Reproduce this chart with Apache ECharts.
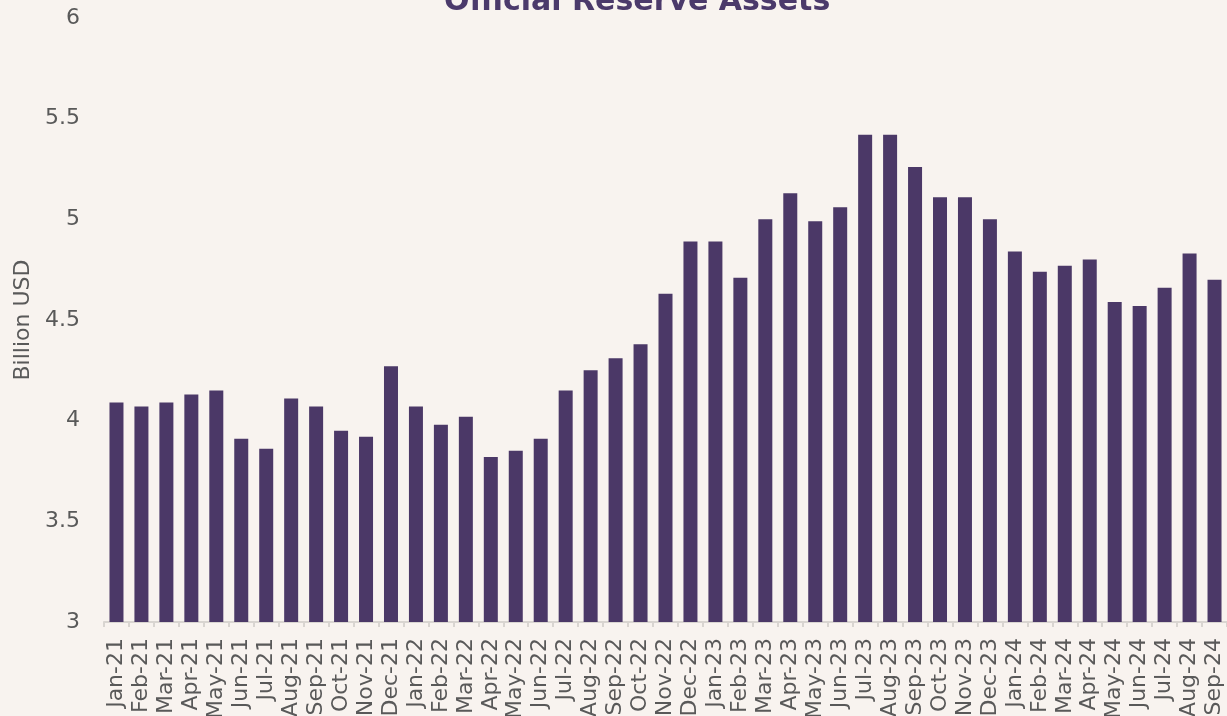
<!DOCTYPE html>
<html>
<head>
<meta charset="UTF-8">
<title>Official Reserve Assets</title>
<script src="https://cdn.jsdelivr.net/npm/echarts@6/dist/echarts.min.js"></script>
<style>
  html, body { margin: 0; padding: 0; background: #f8f3ef; }
  #main { width: 1227px; height: 716px; }
</style>
</head>
<body>
<div id="main"></div>
<script>
// months Jan-21 .. Sep-24
var months = ['Jan-21','Feb-21','Mar-21','Apr-21','May-21','Jun-21','Jul-21','Aug-21','Sep-21','Oct-21','Nov-21','Dec-21',
  'Jan-22','Feb-22','Mar-22','Apr-22','May-22','Jun-22','Jul-22','Aug-22','Sep-22','Oct-22','Nov-22','Dec-22',
  'Jan-23','Feb-23','Mar-23','Apr-23','May-23','Jun-23','Jul-23','Aug-23','Sep-23','Oct-23','Nov-23','Dec-23',
  'Jan-24','Feb-24','Mar-24','Apr-24','May-24','Jun-24','Jul-24','Aug-24','Sep-24'];

// billion USD
var reserves = [4.09, 4.07, 4.09, 4.13, 4.15, 3.91, 3.86, 4.11, 4.07, 3.95, 3.92, 4.27,
  4.07, 3.98, 4.02, 3.82, 3.85, 3.91, 4.15, 4.25, 4.31, 4.38, 4.63, 4.89,
  4.89, 4.71, 5.00, 5.13, 4.99, 5.06, 5.42, 5.42, 5.26, 5.11, 5.11, 5.00,
  4.84, 4.74, 4.77, 4.80, 4.59, 4.57, 4.66, 4.83, 4.70];

var chart = echarts.init(document.getElementById('main'));

chart.setOption({
  backgroundColor: '#f8f3ef',
  animation: false,
  title: {
    text: 'Official Reserve Assets',
    left: 439,
    top: -18,
    textStyle: { color: '#4b3a6b', fontSize: 30, fontWeight: 'bold', fontFamily: 'DejaVu Sans' }
  },
  grid: { left: 104, right: 0, top: 18, bottom: 94, outerBoundsMode: 'none' },
  xAxis: {
    type: 'category',
    data: months,
    axisLine: { lineStyle: { color: '#d9d5d1', width: 2 } },
    axisTick: { show: true, length: 5, lineStyle: { color: '#d9d5d1', width: 2 } },
    axisLabel: {
      rotate: 90,
      interval: 0,
      margin: 16,
      color: '#595959',
      fontSize: 22,
      fontFamily: 'DejaVu Sans'
    }
  },
  yAxis: {
    type: 'value',
    min: 3,
    max: 6,
    interval: 0.5,
    name: 'Billion USD',
    nameLocation: 'middle',
    nameGap: 60,
    nameTextStyle: { color: '#595959', fontSize: 22, fontFamily: 'DejaVu Sans' },
    axisLine: { show: false },
    axisTick: { show: false },
    splitLine: { show: false },
    axisLabel: { color: '#595959', fontSize: 22, margin: 24, fontFamily: 'DejaVu Sans' }
  },
  series: [{
    type: 'bar',
    data: reserves,
    barWidth: 14,
    itemStyle: { color: '#4b3867' }
  }]
});
</script>
</body>
</html>
